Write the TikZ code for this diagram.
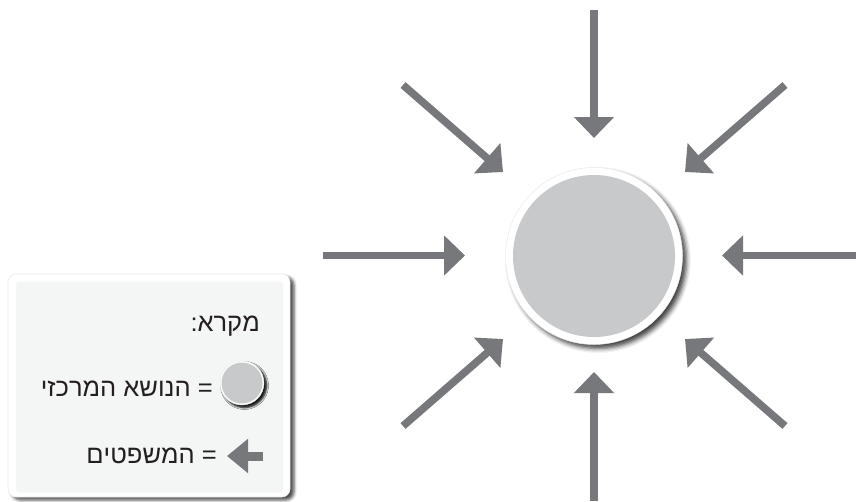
\documentclass[tikz,border=0pt]{standalone}
\usepackage{fontspec}
\setmainfont{Liberation Sans}
\TeXXeTstate=1
\usetikzlibrary{arrows.meta,shadows.blur}
\definecolor{arrowgray}{HTML}{77787B}
\definecolor{discgray}{HTML}{C8C9CB}
\definecolor{legfill}{HTML}{F4F5F5}
\definecolor{ringedge}{HTML}{E8E9EA}
\definecolor{textdark}{HTML}{231F20}
\begin{document}
\begin{tikzpicture}[x=1pt,y=-1pt,
  topicarrow/.style={draw=arrowgray, line width=7.6pt, line cap=butt,
    -{Triangle[width=39pt,length=21pt]}},
  legarrow/.style={draw=arrowgray, line width=9pt, line cap=butt,
    -{Triangle[width=33pt,length=21pt]}},
  ring/.style={circle, fill=white, draw=ringedge, line width=0.5pt, inner sep=0pt,
    blur shadow={shadow xshift=4pt, shadow yshift=-4pt, shadow blur radius=4.5pt, shadow opacity=75}},
  disc/.style={circle, fill=discgray, inner sep=0pt},
  legtext/.style={anchor=east, inner sep=0pt, font=\fontsize{25.5}{30}\selectfont, text=textdark}
]
\useasboundingbox (0,0) rectangle (856,501);

% central topic
\node[ring, minimum size=177pt] (ring) at (594,256) {};
\node[disc, minimum size=162pt] (topic) at (594,256) {};

% arrow endpoints
\coordinate (sT) at (594,10);    \coordinate (tT) at (594,138);
\coordinate (sB) at (594,501);   \coordinate (tB) at (594,372);
\coordinate (sL) at (323,255.5); \coordinate (tL) at (465,255.5);
\coordinate (sR) at (856,255.5); \coordinate (tR) at (722,255.5);
\coordinate (sTL) at (403,85);   \coordinate (tTL) at (503,172);
\coordinate (sTR) at (785,85);   \coordinate (tTR) at (685,172);
\coordinate (sBL) at (403,426);  \coordinate (tBL) at (503,339);
\coordinate (sBR) at (785,426);  \coordinate (tBR) at (685,339);

\foreach \p in {T,B,L,R,TL,TR,BL,BR}{
  \draw[topicarrow] (s\p) -- (t\p);
}

% legend
\node[fill=white, draw=ringedge, line width=0.6pt, rounded corners=8pt,
      minimum width=282pt, minimum height=223pt, inner sep=0pt,
      blur shadow={shadow xshift=4pt, shadow yshift=-3pt, shadow blur radius=3pt, shadow opacity=70}]
      (legend) at (149,385.5) {};
\node[fill=legfill, rounded corners=3pt, minimum width=267pt, minimum height=211pt, inner sep=0pt]
      (legendin) at (149.5,387) {};

\node[legtext] (title) at (260,326) {\beginR מקרא:\endR};

\node[ring, minimum size=44pt, line width=0.4pt,
      blur shadow={shadow xshift=2.5pt, shadow yshift=-2.5pt, shadow blur radius=2pt, shadow opacity=70}]
      (legring) at (242,383) {};
\node[disc, minimum size=41pt] (legdisc) at (242,383) {};
\node[legtext] (topiclabel) at (213,389) {\beginR = הנושא המרכזי\endR};

\coordinate (la1) at (263,456);
\coordinate (la2) at (227,456);
\draw[legarrow] (la1) -- (la2);
\node[legtext] (sentlabel) at (217,456) {\beginR = המשפטים\endR};
\end{tikzpicture}
\end{document}
